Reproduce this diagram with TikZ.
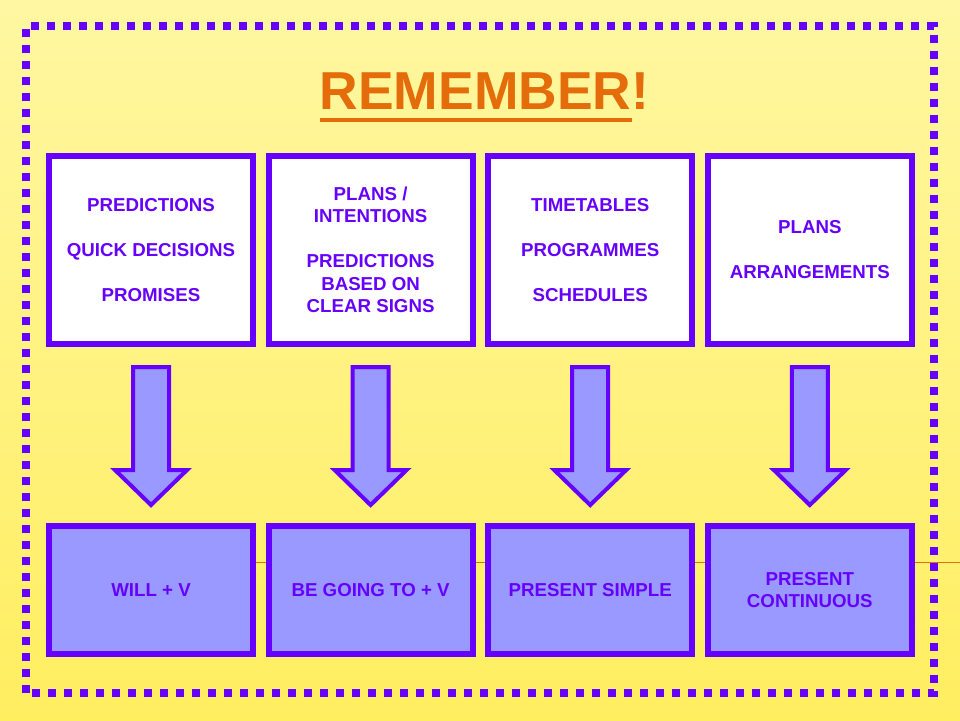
\documentclass[tikz,border=0pt]{standalone}
\usepackage{fontspec}
\setmainfont{Liberation Sans}
\usetikzlibrary{positioning, calc}

\definecolor{boxviolet}{HTML}{6600FF}
\definecolor{boxfill}{HTML}{9999FF}
\definecolor{titleorange}{HTML}{E46C0A}
\definecolor{bgtop}{HTML}{FFF7A2}
\definecolor{bgbottom}{HTML}{FFEE60}

\tikzset{
    topbox/.style={draw=boxviolet, line width=0.15cm, fill=white, minimum width=5.1cm,
        minimum height=4.7cm, align=center, text=boxviolet,
        font=\fontsize{13.3}{16}\selectfont\bfseries},
    bottombox/.style={topbox, fill=boxfill, minimum height=3.2cm},
    blockarrow/.style={draw=boxviolet, fill=boxfill, line width=0.1cm, line join=miter},
    titletext/.style={inner sep=0pt, text=titleorange, font=\fontsize{38}{44}\selectfont\bfseries},
    dotborder/.style={draw=boxviolet, line width=0.19cm, dash pattern=on 0.19cm off 0.21cm},
}

\begin{document}
\begin{tikzpicture}
    \fill[top color=bgtop, bottom color=bgbottom] (0,0) rectangle (24,18);
    \useasboundingbox (0,0) rectangle (24,18);
    \draw[titleorange, line width=0.7pt] (6,3.95) -- (24,3.95);
    \draw[dotborder] (0.65,0.675) rectangle (23.35,17.35);

    \node (title) [titletext, anchor=base] at (11.89,15.25) {REMEMBER};
    \node (bang) [titletext, anchor=base west] at (title.base east) {!};
    \draw[titleorange, line width=0.1cm] ([yshift=-0.25cm]title.base west) -- ([yshift=-0.25cm]title.base east);

    \node (t1) [topbox] at (3.775,11.75) {PREDICTIONS\\[16pt]QUICK DECISIONS\\[16pt]PROMISES};
    \node (t2) [topbox, right=0.24cm of t1] {PLANS /\\INTENTIONS\\[16pt]PREDICTIONS\\BASED ON\\CLEAR SIGNS};
    \node (t3) [topbox, right=0.24cm of t2] {TIMETABLES\\[16pt]PROGRAMMES\\[16pt]SCHEDULES};
    \node (t4) [topbox, right=0.24cm of t3] {PLANS\\[16pt]ARRANGEMENTS};

    \node (b1) [bottombox] at (3.775,3.25) {WILL + V};
    \node (b2) [bottombox, right=0.24cm of b1] {BE GOING TO + V};
    \node (b3) [bottombox, right=0.24cm of b2] {PRESENT SIMPLE};
    \node (b4) [bottombox, right=0.24cm of b3] {PRESENT\\CONTINUOUS};

    \foreach \i in {1,...,4}
        \draw[blockarrow] ($(t\i.south)+(-0.45,-0.5)$) -- ++(0.9,0) -- ++(0,-2.575) -- ++(0.45,0)
            -- ($(t\i.south)+(0,-3.95)$) -- ++(-0.9,0.875) -- ++(0.45,0) -- cycle;
\end{tikzpicture}
\end{document}
